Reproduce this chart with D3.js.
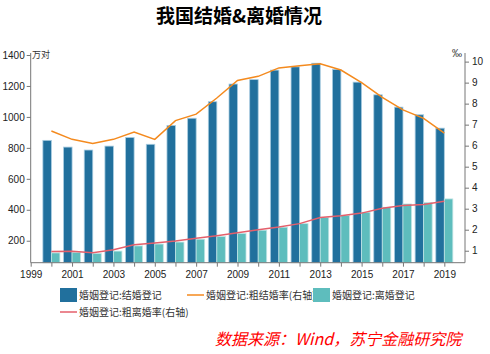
<!DOCTYPE html>
<html>
<head>
<meta charset="utf-8">
<script src="https://cdn.jsdelivr.net/npm/d3@7"></script>
<style>
  body { margin: 0; background: #fff; }
  svg { display: block; }
  .axis path, .axis line { stroke: #777; }
  .axis text { font-family: "Liberation Sans", Arial, sans-serif; font-size: 10px; fill: #222; }
  .cjk { font-family: "Noto Sans CJK SC", sans-serif; }
</style>
</head>
<body>
<svg id="chart" width="490" height="354"></svg>
<script>
// values
const years = [2000, 2001, 2002, 2003, 2004, 2005, 2006, 2007, 2008, 2009,
               2010, 2011, 2012, 2013, 2014, 2015, 2016, 2017, 2018, 2019];
const marriages = [848.5, 805, 786, 811.4, 867.2, 823.1, 945, 991.4, 1098.3, 1212.4,
                   1241, 1302.4, 1323.6, 1346.9, 1306.7, 1224.7, 1142.8, 1063.1, 1013.9, 927.3];
const divorces = [121.3, 125.1, 117.7, 133, 166.5, 178.5, 191.3, 209.8, 226.9, 246.8,
                  267.8, 287.4, 310.4, 350, 363.7, 384.1, 415.8, 437.4, 446.1, 470.1];
const marriageRate = [6.7, 6.3, 6.1, 6.3, 6.65, 6.3, 7.19, 7.5, 8.27, 9.1,
                      9.3, 9.7, 9.8, 9.9, 9.6, 9.0, 8.3, 7.7, 7.3, 6.6];
const divorceRate = [0.96, 0.98, 0.9, 1.05, 1.28, 1.37, 1.46, 1.59, 1.71, 1.85,
                     2.0, 2.13, 2.29, 2.58, 2.67, 2.79, 3.02, 3.15, 3.2, 3.36];

const leftTicks = [200, 400, 600, 800, 1000, 1200, 1400];
const rightTicks = [1, 2, 3, 4, 5, 6, 7, 8, 9, 10];
const yearTicks = d3.range(1999, 2020);

const title = '我国结婚&离婚情况';
const seriesNames = ['婚姻登记:结婚登记', '婚姻登记:粗结婚率(右轴)', '婚姻登记:离婚登记', '婚姻登记:粗离婚率(右轴)'];
const colors = { marriage: '#21709d', divorce: '#5ebdbd', mRate: '#f48a1e', dRate: '#e45f6b' };

const svg = d3.select('#chart');

// plot box
const plotTop = 53, plotBottom = 262.7, plotLeft = 30.7, plotRight = 465;
const x = d3.scaleLinear().domain([1999, 2020]).range([plotLeft, plotRight]);
const yL = d3.scaleLinear().domain([58, 1413]).range([plotBottom, plotTop]);
const yR = d3.scaleLinear().domain([0.43, 10.41]).range([plotBottom, plotTop]);
const barW = 8.5;

// title
svg.append('text')
  .attr('class', 'cjk')
  .attr('x', 239).attr('y', 23)
  .attr('text-anchor', 'middle')
  .style('font-size', '19px').style('font-weight', 'bold')
  .text(title);

// bars
const data = years.map((yr, i) => ({ yr, m: marriages[i], d: divorces[i], mr: marriageRate[i], dr: divorceRate[i] }));

svg.append('g').selectAll('rect')
  .data(data).join('rect')
  .attr('x', d => x(d.yr) - barW)
  .attr('y', d => yL(d.m))
  .attr('width', barW)
  .attr('height', d => plotBottom - yL(d.m))
  .attr('fill', colors.marriage)
  .attr('stroke', '#a8cce0').attr('stroke-width', 0.8);

svg.append('g').selectAll('rect')
  .data(data).join('rect')
  .attr('x', d => x(d.yr))
  .attr('y', d => yL(d.d))
  .attr('width', barW)
  .attr('height', d => plotBottom - yL(d.d))
  .attr('fill', colors.divorce)
  .attr('stroke', '#bfe4e4').attr('stroke-width', 0.8);

// lines on right axis
const lineM = d3.line().x(d => x(d.yr)).y(d => yR(d.mr));
const lineD = d3.line().x(d => x(d.yr)).y(d => yR(d.dr));
svg.append('path').datum(data).attr('d', lineM)
  .attr('fill', 'none').attr('stroke', colors.mRate).attr('stroke-width', 1.5);
svg.append('path').datum(data).attr('d', lineD)
  .attr('fill', 'none').attr('stroke', colors.dRate).attr('stroke-width', 1.5);

// axes
svg.append('g').attr('class', 'axis')
  .attr('transform', `translate(${plotLeft},0)`)
  .call(d3.axisLeft(yL).tickValues(leftTicks).tickFormat(d3.format('d'))
    .tickSize(4).tickSizeOuter(0).tickPadding(2))
  .call(g => g.select('.domain').attr('d', `M0,${plotTop}V${plotBottom}`));

svg.append('g').attr('class', 'axis')
  .attr('transform', `translate(${plotRight},0)`)
  .call(d3.axisRight(yR).tickValues(rightTicks).tickSize(4).tickSizeOuter(0).tickPadding(3))
  .call(g => g.select('.domain').attr('d', `M0,${plotTop}V${plotBottom}`));

svg.append('g').attr('class', 'axis')
  .attr('transform', `translate(0,${plotBottom})`)
  .call(d3.axisBottom(x).tickValues(yearTicks).tickSize(4).tickSizeOuter(0).tickPadding(4)
    .tickFormat(d => (d % 2 === 1 ? d : '')))
  .call(g => g.select('.domain').attr('d', `M${plotLeft},0H${plotRight}`));

// unit labels
svg.append('text').attr('class', 'cjk')
  .attr('x', 32).attr('y', 58)
  .style('font-size', '9px').style('fill', '#333')
  .text('万对');
svg.append('text')
  .attr('x', 462).attr('y', 57).attr('text-anchor', 'end')
  .style('font-family', '"Liberation Sans", Arial, sans-serif')
  .style('font-size', '10px').style('fill', '#333')
  .text('‰');

// legend
const legendItems = [
  { name: seriesNames[0], type: 'rect', color: colors.marriage, x: 60, y: 295 },
  { name: seriesNames[1], type: 'line', color: colors.mRate, x: 187, y: 295 },
  { name: seriesNames[2], type: 'rect', color: colors.divorce, x: 313, y: 295 },
  { name: seriesNames[3], type: 'line', color: colors.dRate, x: 60, y: 312 }
];
const legend = svg.append('g').selectAll('g')
  .data(legendItems).join('g')
  .attr('transform', d => `translate(${d.x},${d.y})`);

legend.filter(d => d.type === 'rect').append('rect')
  .attr('x', 0).attr('y', -7).attr('width', 17).attr('height', 14)
  .attr('fill', d => d.color);
legend.filter(d => d.type === 'line').append('line')
  .attr('x1', 0).attr('x2', 17).attr('y1', 0).attr('y2', 0)
  .attr('stroke', d => d.color).attr('stroke-width', 1.5);
legend.append('text').attr('class', 'cjk')
  .attr('x', 19).attr('y', 0).attr('dy', '0.35em')
  .style('font-size', '10px').style('fill', '#333')
  .text(d => d.name);

// source note
svg.append('text').attr('class', 'cjk')
  .attr('x', 215).attr('y', 345)
  .style('font-size', '16px').style('font-style', 'italic').style('fill', '#ff0000')
  .text('数据来源：Wind，苏宁金融研究院');
</script>
</body>
</html>
